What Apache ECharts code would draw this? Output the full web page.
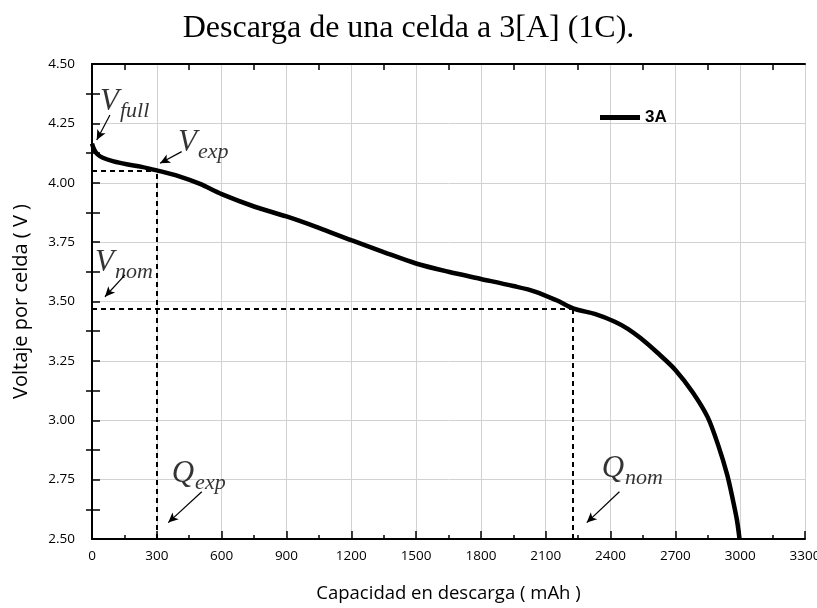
<!DOCTYPE html>
<html>
<head>
<meta charset="utf-8">
<script src="https://cdn.jsdelivr.net/npm/echarts@6/dist/echarts.min.js"></script>
<style>
  html, body { margin: 0; padding: 0; background: #fff; }
  #chart { width: 817px; height: 608px; }
</style>
</head>
<body>
<div id="chart"></div>
<script>
// Discharge curve of one cell at 3 A (1C): capacity in mAh, voltage in V
const capacity = [0, 10, 25, 50, 100, 160, 230, 300, 400, 500, 600, 750, 900, 1050, 1200, 1350,
  1500, 1650, 1800, 1950, 2050, 2150, 2230, 2330, 2420, 2480, 2540, 2620, 2700, 2780, 2850,
  2900, 2940, 2965, 2985, 2997];
const voltage = [4.165, 4.14, 4.12, 4.105, 4.09, 4.078, 4.067, 4.052, 4.028, 3.995, 3.952, 3.90,
  3.858, 3.81, 3.758, 3.708, 3.660, 3.625, 3.595, 3.565, 3.542, 3.505, 3.470, 3.447, 3.415,
  3.385, 3.345, 3.282, 3.212, 3.118, 3.012, 2.89, 2.77, 2.67, 2.58, 2.50];

const seriesName = '3A';

// Axis ranges and tick spacing
const xRange = [0, 3300];
const xStep = 300;
const yRange = [2.5, 4.5];
const yStep = 0.25;

// Exponential-zone and nominal-zone operating points (capacity, voltage)
const qExp = 300, vExp = 4.05;
const qNom = 2225, vNom = 3.47;

// Symbol labels: [capacity, voltage, letter, subscript]
const symbolLabels = [
  [37, 4.332, 'V', 'full'],
  [398, 4.159, 'V', 'exp'],
  [14, 3.654, 'V', 'nom'],
  [369, 2.765, 'Q', 'exp'],
  [2359, 2.786, 'Q', 'nom']
];

// Pointer arrows: [fromCapacity, fromVoltage, toCapacity, toVoltage]
const pointers = [
  [83, 4.285, 22, 4.18],
  [415, 4.131, 315, 4.082],
  [153, 3.612, 60, 3.520],
  [508, 2.699, 353, 2.569],
  [2441, 2.699, 2290, 2.569]
];

const curve = capacity.map((c, i) => [c, voltage[i]]);

const guideStyle = { type: [5, 4], color: '#000', width: 2 };
const guides = [
  [[xRange[0], vExp], [qExp, vExp]],
  [[qExp, yRange[0]], [qExp, vExp]],
  [[xRange[0], vNom], [qNom, vNom]],
  [[qNom, yRange[0]], [qNom, vNom]]
].map(([a, b]) => [
  { coord: a, symbol: 'none', lineStyle: guideStyle },
  { coord: b, symbol: 'none' }
]);

const arrowLines = pointers.map(p => [
  { coord: [p[0], p[1]], symbol: 'none', lineStyle: { type: 'solid', color: '#000', width: 1.2 } },
  { coord: [p[2], p[3]], symbol: 'arrow', symbolSize: [7, 10] }
]);

const tickFont = { fontFamily: 'Open Sans', fontSize: 13.5, color: '#000' };
const frameLine = { show: true, lineStyle: { color: '#000', width: 2 } };
const gridLine = { show: true, lineStyle: { color: '#d2d2d2', width: 1 } };

const chart = echarts.init(document.getElementById('chart'), null, { renderer: 'canvas' });

chart.setOption({
  animation: false,
  backgroundColor: '#fff',
  title: {
    text: 'Descarga de una celda a 3[A] (1C).',
    left: 'center',
    top: 8,
    textStyle: { fontFamily: 'Liberation Serif', fontSize: 32, fontWeight: 'normal', color: '#000' }
  },
  legend: {
    data: [seriesName],
    left: 600,
    top: 109,
    padding: 0,
    icon: 'rect',
    itemWidth: 40,
    itemHeight: 5,
    itemGap: 6,
    textStyle: { fontFamily: 'Liberation Sans', fontSize: 17, fontWeight: 'bold', color: '#000' }
  },
  grid: { left: 92, right: 12, top: 64, bottom: 69, containLabel: false, outerBoundsMode: 'none' },
  xAxis: [
    {
      type: 'value', min: xRange[0], max: xRange[1], interval: xStep, position: 'bottom',
      name: 'Capacidad en descarga ( mAh )', nameLocation: 'middle', nameGap: 45,
      nameTextStyle: { fontFamily: 'Open Sans', fontSize: 18.5, color: '#000' },
      axisLine: frameLine,
      axisTick: { show: true, inside: true, length: 8, lineStyle: { color: '#000', width: 1.5 } },
      minorTick: { show: true, splitNumber: 2, length: 4, lineStyle: { color: '#000', width: 1.5 } },
      splitLine: gridLine,
      axisLabel: Object.assign({ margin: 10, formatter: v => String(v) }, tickFont)
    },
    {
      type: 'value', min: xRange[0], max: xRange[1], interval: xStep, position: 'top',
      axisLine: frameLine,
      axisTick: { show: false, inside: true },
      minorTick: { show: true, splitNumber: 2, length: 6, lineStyle: { color: '#000', width: 1.5 } },
      splitLine: { show: false },
      axisLabel: { show: false }
    }
  ],
  yAxis: [
    {
      type: 'value', min: yRange[0], max: yRange[1], interval: yStep, position: 'left',
      name: 'Voltaje por celda ( V )', nameLocation: 'middle', nameGap: 61,
      nameTextStyle: { fontFamily: 'Open Sans', fontSize: 20, color: '#000' },
      axisLine: frameLine,
      axisTick: { show: true, inside: true, length: 8, lineStyle: { color: '#000', width: 1.5 } },
      minorTick: { show: true, splitNumber: 2, length: 8, lineStyle: { color: '#000', width: 1.5 } },
      splitLine: gridLine,
      axisLabel: Object.assign({ margin: 17, formatter: v => v.toFixed(2) }, tickFont)
    },
    {
      type: 'value', min: yRange[0], max: yRange[1], interval: yStep, position: 'right',
      axisLine: frameLine,
      axisTick: { show: false, inside: true },
      minorTick: { show: true, splitNumber: 2, length: 6, lineStyle: { color: '#000', width: 1.5 } },
      splitLine: { show: false },
      axisLabel: { show: false }
    }
  ],
  series: [
    {
      name: seriesName,
      type: 'line',
      data: curve,
      smooth: 0.3,
      showSymbol: false,
      symbol: 'none',
      lineStyle: { color: '#000', width: 4.5 },
      itemStyle: { color: '#000' },
      z: 5
    },
    {
      name: 'anotaciones',
      type: 'scatter',
      data: symbolLabels.map(d => ({ value: [d[0], d[1]], letter: d[2], sub: d[3] })),
      symbolSize: 0,
      silent: true,
      z: 6,
      label: {
        show: true,
        position: 'right',
        distance: 0,
        formatter: p => '{v|' + p.data.letter + '}{s|' + p.data.sub + '}',
        rich: {
          v: { fontFamily: 'Liberation Serif', fontStyle: 'italic', fontSize: 31, color: '#000',
               verticalAlign: 'bottom', padding: [0, 1, 5, 0] },
          s: { fontFamily: 'Liberation Serif', fontStyle: 'italic', fontSize: 22, color: '#000',
               verticalAlign: 'bottom' }
        }
      },
      markLine: {
        silent: true,
        animation: false,
        label: { show: false },
        emphasis: { disabled: true },
        data: guides.concat(arrowLines)
      }
    }
  ]
});
</script>
</body>
</html>
